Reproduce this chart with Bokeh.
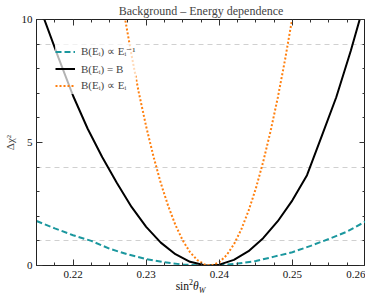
from bokeh.plotting import figure
from bokeh.models import (LinearAxis, SingleIntervalTicker, FixedTicker, Legend, LegendItem,
                          Range1d, Div)
from bokeh.layouts import column
from bokeh.embed import file_html
from bokeh.resources import INLINE

# --- data ---
x_inv = [0.2150, 0.2175, 0.2200, 0.2225, 0.2250, 0.2275, 0.2300, 0.2325, 0.2350, 0.2375,
         0.2400, 0.2425, 0.2450, 0.2475, 0.2500, 0.2525, 0.2550, 0.2575, 0.2600]
y_inv = [1.81, 1.51, 1.23, 1.00, 0.68, 0.45, 0.26, 0.13, 0.04, 0.00,
         0.01, 0.08, 0.18, 0.36, 0.54, 0.80, 1.08, 1.38, 1.79]

x_const = [0.2140, 0.2160, 0.2180, 0.2200, 0.2220, 0.2240, 0.2260, 0.2280, 0.2300, 0.2320,
           0.2340, 0.2360, 0.2380, 0.2387, 0.2400, 0.2420, 0.2440, 0.2460, 0.2480, 0.2500,
           0.2520, 0.2540, 0.2560, 0.2580, 0.2600]
y_const = [11.9, 10.06, 8.45, 6.90, 5.56, 4.40, 3.35, 2.38, 1.57, 0.93,
           0.46, 0.15, 0.01, 0.00, 0.035, 0.23, 0.58, 1.11, 1.80, 2.65,
           3.67, 5.25, 6.84, 8.74, 10.83]

x_lin = [0.2260, 0.2270, 0.2280, 0.2290, 0.2300, 0.2310, 0.2320, 0.2330, 0.2340, 0.2350,
         0.2360, 0.2370, 0.2380, 0.2387, 0.2390, 0.2400, 0.2410, 0.2420, 0.2430, 0.2440,
         0.2450, 0.2460, 0.2470, 0.2480, 0.2490, 0.2500, 0.2510]
y_lin = [12.04, 10.22, 8.55, 7.02, 5.65, 4.43, 3.35, 2.43, 1.65, 1.02,
         0.54, 0.22, 0.04, 0.00, 0.01, 0.13, 0.42, 0.86, 1.46, 2.22,
         3.13, 4.21, 5.44, 6.82, 8.37, 10.08, 11.94]

sigma_levels = [1, 4, 9]
labels = ["B(Eᵢ) ∝ Eᵢ⁻¹", "B(Eᵢ) = B", "B(Eᵢ) ∝ Eᵢ"]
title_text = "Background – Energy dependence"
xlabel_html = "sin<sup style='font-size:8px;line-height:0'>2</sup><i>θ</i><sub style='font-size:8px;line-height:0'><i>W</i></sub>"
ylabel = "Δχ²"

FONT = "Liberation Serif"
TEAL = "#1b979e"
ORANGE = "#ff7f0e"

p = figure(frame_width=329, frame_height=246, output_backend="svg", toolbar_location=None,
           x_range=Range1d(0.215, 0.26), y_range=Range1d(0, 10),
           title=title_text, y_axis_label=ylabel,
           min_border_left=0, min_border_right=0, min_border_top=0, min_border_bottom=0)

p.title.align = "center"
p.title.text_font = FONT
p.title.text_font_size = "12px"
p.title.text_font_style = "normal"
p.title.offset = 0
p.title.standoff = 3

p.outline_line_color = "#222222"
p.xgrid.visible = False
p.ygrid.ticker = FixedTicker(ticks=sigma_levels)
p.ygrid.grid_line_color = "#d0d0d0"
p.ygrid.grid_line_dash = "5 4"
p.ygrid.grid_line_width = 1

xt = SingleIntervalTicker(interval=0.01, num_minor_ticks=4)
yt = SingleIntervalTicker(interval=5, num_minor_ticks=5)
p.xaxis.ticker = xt
p.yaxis.ticker = yt

def style_axis(ax, show_labels):
    ax.axis_line_color = "#222222"
    ax.major_tick_in = 6
    ax.major_tick_out = 0
    ax.minor_tick_in = 3
    ax.minor_tick_out = 0
    ax.major_tick_line_color = "#333333"
    ax.minor_tick_line_color = "#333333"
    ax.major_label_text_font = FONT
    if show_labels:
        ax.major_label_text_font_size = "11px"
        ax.major_label_text_color = "#111111"
        ax.major_label_standoff = 4
    else:
        ax.major_label_text_font_size = "1px"
        ax.major_label_text_color = None
        ax.major_label_standoff = 0
    ax.axis_label_text_font = FONT
    ax.axis_label_text_font_size = "11px"
    ax.axis_label_text_font_style = "normal"
    ax.axis_label_standoff = 3

for ax in p.xaxis + p.yaxis:
    style_axis(ax, True)
p.xaxis.major_label_standoff = 5

top = LinearAxis(ticker=xt)
right = LinearAxis(ticker=yt)
style_axis(top, False)
style_axis(right, False)
p.add_layout(top, "above")
p.add_layout(right, "right")

r_inv = p.line(x_inv, y_inv, line_color=TEAL, line_width=2, line_dash="6 3")
r_const = p.line(x_const, y_const, line_color="black", line_width=2)
r_lin = p.line(x_lin, y_lin, line_color=ORANGE, line_width=2, line_dash="2 2")

legend = Legend(items=[LegendItem(label=labels[0], renderers=[r_inv]),
                       LegendItem(label=labels[1], renderers=[r_const]),
                       LegendItem(label=labels[2], renderers=[r_lin])],
                location=(19, 171))
legend.label_text_font = FONT
legend.label_text_font_size = "11px"
legend.border_line_color = None
legend.background_fill_alpha = 0.7
legend.padding = 4
legend.spacing = 0
legend.glyph_width = 20
legend.glyph_height = 17
legend.label_height = 17
legend.label_standoff = 6
legend.margin = 0
p.add_layout(legend)

xlabel_div = Div(text=xlabel_html, width=329, height=12, margin=(0, 0, 0, 26),
                 styles={"text-align": "center", "font-family": FONT,
                         "font-size": "11.5px", "line-height": "12px", "color": "#111111"})

layout = column(p, xlabel_div, spacing=0)

open("out.html", "w").write(file_html(layout, INLINE))
